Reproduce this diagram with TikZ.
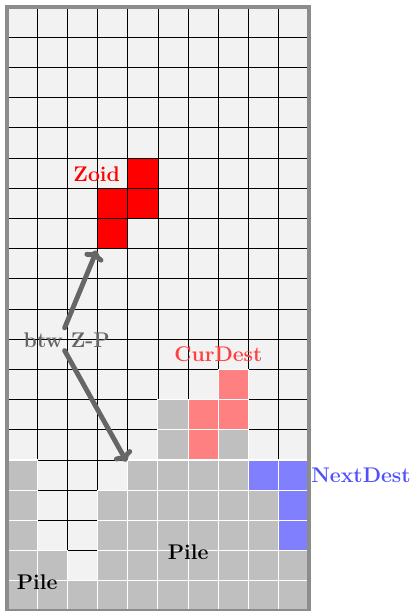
\documentclass[tikz,border=0pt]{standalone}
\usetikzlibrary{arrows.meta}
\definecolor{emptyc}{HTML}{F2F2F2}
\definecolor{pilec}{HTML}{BFBFBF}
\definecolor{curc}{HTML}{FF8080}
\definecolor{nextc}{HTML}{8080FF}
\definecolor{curtxt}{HTML}{FF4040}
\definecolor{nexttxt}{HTML}{5050FF}
\definecolor{arrc}{HTML}{666666}
\begin{document}
\begin{tikzpicture}[x=1cm,y=1cm,
  emptycell/.style={fill=emptyc,draw=black,line width=0.8pt},
  pilecell/.style={fill=pilec,draw=white,line width=1pt},
  curcell/.style={fill=curc,draw=white,line width=1pt},
  nextcell/.style={fill=nextc,draw=white,line width=1pt},
  zoidcell/.style={fill=red,draw=black,line width=0.8pt},
  lbl/.style={font=\fontsize{20}{24}\selectfont\bfseries,inner sep=2pt},
  arr/.style={-{To[length=9pt,width=19pt,line cap=round]},line width=4.6pt,draw=arrc,line cap=round}]
\useasboundingbox (-0.23,0) rectangle (13.51,20.23);
% empty grid
\foreach \c in {0,...,9}{\foreach \r in {0,...,19}{
  \path[emptycell] (\c,19-\r) rectangle ++(1,1);}}
% pile cells (column/row-from-top)
\foreach \c/\r in {5/13,5/14,7/14,
  0/15,4/15,5/15,6/15,7/15,
  0/16,3/16,4/16,5/16,6/16,7/16,8/16,
  0/17,3/17,4/17,5/17,6/17,7/17,8/17,
  0/18,1/18,3/18,4/18,5/18,6/18,7/18,8/18,9/18,
  0/19,1/19,2/19,3/19,4/19,5/19,6/19,7/19,8/19,9/19}{
  \path[pilecell] (\c,19-\r) rectangle ++(1,1);}
% current destination
\foreach \c/\r in {7/12,6/13,7/13,6/14}{
  \path[curcell] (\c,19-\r) rectangle ++(1,1);}
% next destination
\foreach \c/\r in {8/15,9/15,9/16,9/17}{
  \path[nextcell] (\c,19-\r) rectangle ++(1,1);}
% zoid
\foreach \c/\r in {4/5,3/6,4/6,3/7}{
  \path[zoidcell] (\c,19-\r) rectangle ++(1,1);}
% outer border
\draw[draw=black!45,line width=3pt] (0,0) rectangle (10,20);
% labels
\node[lbl,text=red] (zoid) at (2.97,14.47) {Zoid};
\node[lbl,text=curtxt] (cur) at (7,8.5) {CurDest};
\node[lbl,text=nexttxt,anchor=west] (next) at (10.0,4.5) {NextDest};
\node[lbl] (pile1) at (6,1.95) {Pile};
\node[lbl] (pile2) at (1,0.95) {Pile};
\node[lbl,text=arrc,inner sep=1pt] (btw) at (1.98,8.98) {btw Z-P};
\coordinate (zc) at (2.97,11.93);
\coordinate (pc) at (3.96,4.95);
\draw[arr] ([xshift=-2pt,yshift=3pt]btw.north) -- (zc);
\draw[arr] ([xshift=-2pt,yshift=-2pt]btw.south) -- (pc);
\end{tikzpicture}
\end{document}
